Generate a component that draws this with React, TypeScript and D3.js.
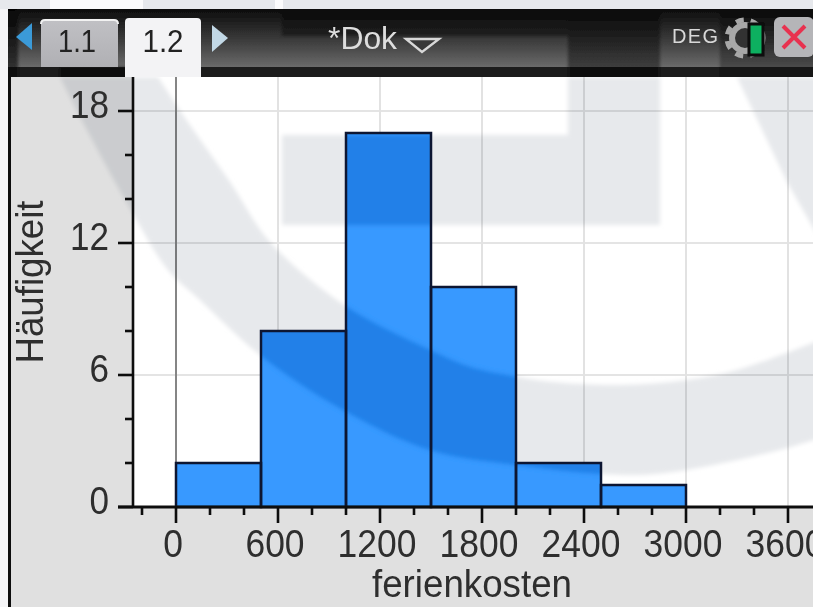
import React from "react";
import * as d3 from "d3";

const binStarts = [0, 500, 1000, 1500, 2000, 2500];
const binWidth = 500;
const counts = [2, 8, 17, 10, 2, 1];
const xMajor = [0, 600, 1200, 1800, 2400, 3000, 3600];
const xMinor = [-200, 200, 400, 800, 1000, 1400, 1600, 2000, 2200, 2600, 2800, 3200, 3400, 3800];
const yMajor = [0, 6, 12, 18];
const yMinor = [2, 4, 8, 10, 14, 16];
const xTitle = "ferienkosten";
const yTitle = "Häufigkeit";
const tabs = ["1.1", "1.2"];

// Decorative photographic watermark behind the plot (not data)
const ringOuter: [number, number][] = [[60, 77], [87, 130], [127, 203], [168, 270], [200, 300], [260, 355], [343, 410], [430, 450], [517, 465], [637, 475], [703, 467], [787, 448], [820, 438]];
const ringInner: [number, number][] = [[820, 340], [737, 370], [687, 380], [620, 385], [553, 382], [517, 377], [470, 367], [430, 350], [347, 307], [270, 242], [230, 182], [185, 118], [158, 77]];

const x = d3.scaleLinear().domain([0, 3000]).range([176, 686]);
const y = d3.scaleLinear().domain([0, 18]).range([507, 111]);
const edge = d3.line().curve(d3.curveCatmullRom);

function Watermark() {
  const ring = edge(ringOuter)! + "L" + edge(ringInner)!.slice(1) + "Z";
  return (
    <>
      <path d={ring} />
      <path d="M282,135H568V77H660V225H282Z" />
      <path d="M737,77L787,182L820,240V77Z" />
    </>
  );
}

export default function App() {
  const font = "'Liberation Sans', Arial, sans-serif";
  return (
    <svg width={813} height={607} style={{ position: "fixed", left: 0, top: 0, display: "block" }} fontFamily={font}>
      <defs>
        <filter id="soft" x="0" y="0" width="100%" height="100%"><feGaussianBlur stdDeviation="0.7" /></filter>
        <filter id="wmBlur" filterUnits="userSpaceOnUse" x="0" y="0" width="813" height="607"><feGaussianBlur stdDeviation="2" /></filter>
        <filter id="hdBlur" filterUnits="userSpaceOnUse" x="0" y="0" width="813" height="607"><feGaussianBlur stdDeviation="1.5" /></filter>
        <linearGradient id="hdr" x1="0" y1="0" x2="0" y2="1">
          <stop offset="0" stopColor="#0c0c0c" />
          <stop offset="0.5" stopColor="#383838" />
          <stop offset="1" stopColor="#6a6a6a" />
        </linearGradient>
        <linearGradient id="tabA" x1="0" y1="0" x2="0" y2="1">
          <stop offset="0" stopColor="#c0c0c4" />
          <stop offset="1" stopColor="#b0b0b4" />
        </linearGradient>
        <mask id="wmMask" maskUnits="userSpaceOnUse" x="0" y="0" width="813" height="607">
          <g fill="#fff" filter="url(#wmBlur)"><Watermark /></g>
        </mask>
        <clipPath id="plotClip"><rect x={11} y={77} width={802} height={430} /></clipPath>
        <clipPath id="hdrClip"><rect x={8} y={9} width={805} height={68} /></clipPath>
      </defs>
      <g filter="url(#soft)">
        <rect width={813} height={607} fill="#f4f4f6" />
        {/* top strip */}
        <rect x={0} y={0} width={813} height={9} fill="#e6e8ec" />
        <rect x={50} y={0} width={93} height={9} fill="#fbfbfc" />
        <rect x={275} y={0} width={8} height={9} fill="#fbfbfc" />
        {/* window frame */}
        <rect x={8} y={9} width={3} height={598} fill="#0a0a0a" />
        <rect x={11} y={77} width={802} height={530} fill="#e0e0e0" />
        <rect x={133} y={77} width={680} height={430} fill="#ffffff" />
        {/* grid */}
        {yMajor.filter((v) => v > 0).map((v) => (
          <line key={v} x1={133} x2={813} y1={y(v)} y2={y(v)} stroke="#e4e4e4" strokeWidth={2} />
        ))}
        {xMajor.map((v) => (
          <line key={v} x1={x(v)} x2={x(v)} y1={77} y2={507} stroke={v === 0 ? "#858585" : "#e2e2e2"} strokeWidth={2} />
        ))}
        {/* watermark */}
        <g clipPath="url(#plotClip)" style={{ mixBlendMode: "multiply" }}>
          <g fill="#e7e9ec" filter="url(#wmBlur)"><Watermark /></g>
        </g>
        {/* bars */}
        {counts.map((c, i) => (
          <rect key={i} x={x(binStarts[i])} y={y(c)} width={x(binStarts[i] + binWidth) - x(binStarts[i])} height={y(0) - y(c)} fill="#3799ff" />
        ))}
        <g mask="url(#wmMask)">
          {counts.map((c, i) => (
            <rect key={i} x={x(binStarts[i])} y={y(c)} width={x(binStarts[i] + binWidth) - x(binStarts[i])} height={y(0) - y(c)} fill="#2080e8" />
          ))}
        </g>
        {counts.map((c, i) => (
          <rect key={i} x={x(binStarts[i])} y={y(c)} width={x(binStarts[i] + binWidth) - x(binStarts[i])} height={y(0) - y(c)} fill="none" stroke="#0c1430" strokeWidth={2.5} />
        ))}
        {/* axes */}
        <line x1={133} x2={133} y1={77} y2={507} stroke="#101010" strokeWidth={2.6} />
        <line x1={118} x2={813} y1={507} y2={507} stroke="#101010" strokeWidth={2.8} />
        {yMajor.map((v) => (
          <line key={v} x1={118} x2={133} y1={y(v)} y2={y(v)} stroke="#101010" strokeWidth={2.6} />
        ))}
        {yMinor.map((v) => (
          <line key={v} x1={125} x2={133} y1={y(v)} y2={y(v)} stroke="#101010" strokeWidth={2.6} />
        ))}
        {xMajor.map((v) => (
          <line key={v} x1={x(v)} x2={x(v)} y1={507} y2={523} stroke="#101010" strokeWidth={2.6} />
        ))}
        {xMinor.map((v) => (
          <line key={v} x1={x(v)} x2={x(v)} y1={507} y2={515} stroke="#101010" strokeWidth={2.6} />
        ))}
        <g fill="#2e2e2e" fontSize={38}>
          {yMajor.map((v) => (
            <text key={v} x={109} y={y(v) + 7} textAnchor="end" textLength={String(v).length * 19.5} lengthAdjust="spacingAndGlyphs">{v}</text>
          ))}
          {xMajor.map((v) => (
            <text key={v} x={x(v) - 3} y={557} textAnchor="middle" textLength={String(v).length * 19.7} lengthAdjust="spacingAndGlyphs">{v}</text>
          ))}
          <text x={472} y={597} textAnchor="middle" textLength={200} lengthAdjust="spacingAndGlyphs">{xTitle}</text>
          <text transform="translate(43,282) rotate(-90)" textAnchor="middle" textLength={163} lengthAdjust="spacingAndGlyphs">{yTitle}</text>
        </g>
        {/* header */}
        <rect x={8} y={9} width={805} height={58} fill="url(#hdr)" />
        <rect x={8} y={67} width={805} height={10} fill="#1c1c1c" />
        <g clipPath="url(#hdrClip)">
          <g fill="#000" filter="url(#hdBlur)">
            <rect x={282} y={0} width={286} height={36} opacity={0.38} />
            <rect x={568} y={0} width={92} height={90} opacity={0.42} />
            <rect x={0} y={0} width={18} height={90} opacity={0.55} />
            <rect x={60} y={67} width={75} height={20} opacity={0.55} />
            <rect x={720} y={0} width={100} height={90} opacity={0.3} />
          </g>
        </g>
        {/* tabs */}
        <path d="M16,37L32,23V50Z" fill="#3a9ad8" />
        <path d="M212,25L228,38L212,52Z" fill="#c2d8e6" />
        <path d="M41,67V24Q41,20 45,20H114Q118,20 118,24V67Z" fill="url(#tabA)" />
        <path d="M41,24Q41,20 45,20H114Q118,20 118,24" fill="none" stroke="#f2f2f2" strokeWidth={2} />
        <path d="M125,77V22Q125,18 129,18H197Q201,18 201,22V77Z" fill="#f3f3f5" />
        <g fill="#222" fontSize={31} textAnchor="middle">
          <text x={77} y={52} textLength={38} lengthAdjust="spacingAndGlyphs">{tabs[0]}</text>
          <text x={163} y={52} textLength={41} lengthAdjust="spacingAndGlyphs">{tabs[1]}</text>
        </g>
        <text x={328} y={49} fontSize={32} fill="#dedede" textLength={69} lengthAdjust="spacingAndGlyphs">*Dok</text>
        <path d="M406,39H439L422,52Z" fill="#383838" stroke="#d8d8d8" strokeWidth={2.4} />
        <text x={672} y={43} fontSize={20} fill="#d8d8d8" textLength={46}>DEG</text>
        {/* status icons */}
        <circle cx={745} cy={38} r={13} fill="#333" stroke="#a8a8a8" strokeWidth={6} />
        <circle cx={745} cy={38} r={18} fill="none" stroke="#a8a8a8" strokeWidth={5} strokeDasharray="8 7" />
        <rect x={749} y={24} width={14} height={31} fill="#10b060" stroke="#0a0a0a" strokeWidth={3} />
        <rect x={774} y={17} width={40} height={40} rx={6} fill="#b5b5b8" />
        <path d="M783,26L805,48M805,26L783,48" stroke="#e8304f" strokeWidth={4} />
      </g>
    </svg>
  );
}
